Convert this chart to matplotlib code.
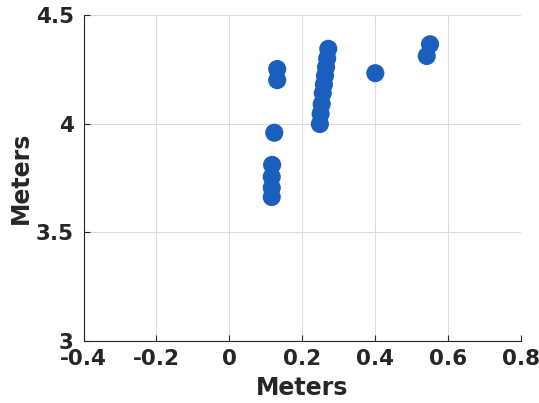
import matplotlib
matplotlib.use('Agg')
import matplotlib.pyplot as plt

# 観測点の座標 (メートル)
x_vals = [0.116, 0.116, 0.116, 0.117, 0.123, 0.131, 0.131,
          0.248, 0.250, 0.253, 0.256, 0.259, 0.262, 0.265, 0.268, 0.271,
          0.400, 0.541, 0.550]
y_vals = [3.662, 3.705, 3.755, 3.810, 3.958, 4.200, 4.251,
          3.998, 4.045, 4.090, 4.140, 4.180, 4.220, 4.260, 4.300, 4.344,
          4.232, 4.311, 4.365]

xticks = [-0.4, -0.2, 0, 0.2, 0.4, 0.6, 0.8]
xtick_labels = ['-0.4', '-0.2', '0', '0.2', '0.4', '0.6', '0.8']
yticks = [3, 3.5, 4, 4.5]
ytick_labels = ['3', '3.5', '4', '4.5']

plt.rcParams['font.family'] = ['DejaVu Sans']
plt.rcParams['font.weight'] = 'bold'

fig = plt.figure(figsize=(5.39, 4.03), dpi=100)
ax = fig.add_axes([0.155, 0.154, 0.812, 0.809])

ax.scatter(x_vals, y_vals, s=170, color='#1a5ebe', edgecolors='none', zorder=3)

ax.set_xlim(-0.4, 0.8)
ax.set_ylim(3, 4.5)
ax.set_xticks(xticks)
ax.set_xticklabels(xtick_labels)
ax.set_yticks(yticks)
ax.set_yticklabels(ytick_labels)
ax.tick_params(direction='in', length=4, labelsize=15.5, colors='#262626')
ax.tick_params(axis='x', pad=6)
ax.tick_params(axis='y', pad=7)
ax.grid(True, color='#dcdcdc', linewidth=0.8)
ax.set_axisbelow(True)

for side in ['top', 'right']:
    ax.spines[side].set_visible(False)
for side in ['left', 'bottom']:
    ax.spines[side].set_color('#262626')

ax.set_xlabel('Meters', fontsize=17, fontweight='bold', color='#262626', labelpad=5)
ax.set_ylabel('Meters', fontsize=17, fontweight='bold', color='#262626', labelpad=2)

fig.savefig('out.png', dpi=100)
